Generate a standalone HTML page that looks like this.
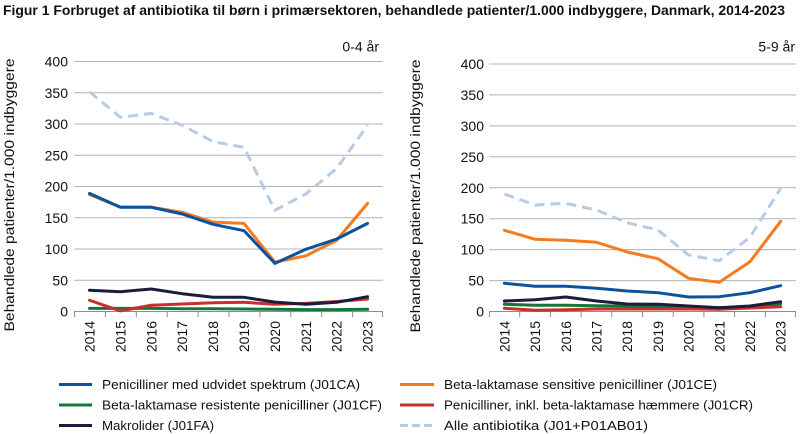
<!DOCTYPE html>
<html>
<head>
<meta charset="utf-8">
<style>
html,body{margin:0;padding:0;background:#fff;}
svg{display:block;}
text{font-family:"Liberation Sans",sans-serif;fill:#111;}
</style>
</head>
<body>
<svg width="800" height="434" viewBox="0 0 800 434" xmlns="http://www.w3.org/2000/svg">
<rect width="800" height="434" fill="#fff"/>
<text x="3" y="15" font-size="14" font-weight="bold" textLength="782" lengthAdjust="spacingAndGlyphs">Figur 1 Forbruget af antibiotika til børn i primærsektoren, behandlede patienter/1.000 indbyggere, Danmark, 2014-2023</text>

<!-- LEFT CHART -->
<g stroke="#b3b3b3" stroke-width="1">
<line x1="74" x2="383" y1="61.5" y2="61.5"/>
<line x1="74" x2="383" y1="92.75" y2="92.75"/>
<line x1="74" x2="383" y1="124" y2="124"/>
<line x1="74" x2="383" y1="155.25" y2="155.25"/>
<line x1="74" x2="383" y1="186.5" y2="186.5"/>
<line x1="74" x2="383" y1="217.75" y2="217.75"/>
<line x1="74" x2="383" y1="249" y2="249"/>
<line x1="74" x2="383" y1="280.25" y2="280.25"/>
</g>
<g stroke="#8c8c8c" stroke-width="1">
<line x1="74" x2="383" y1="311.5" y2="311.5"/>
<line x1="74.5" x2="74.5" y1="311.5" y2="317"/>
<line x1="105.4" x2="105.4" y1="311.5" y2="317"/>
<line x1="136.3" x2="136.3" y1="311.5" y2="317"/>
<line x1="167.2" x2="167.2" y1="311.5" y2="317"/>
<line x1="198.1" x2="198.1" y1="311.5" y2="317"/>
<line x1="229" x2="229" y1="311.5" y2="317"/>
<line x1="259.9" x2="259.9" y1="311.5" y2="317"/>
<line x1="290.8" x2="290.8" y1="311.5" y2="317"/>
<line x1="321.7" x2="321.7" y1="311.5" y2="317"/>
<line x1="352.6" x2="352.6" y1="311.5" y2="317"/>
<line x1="382.5" x2="382.5" y1="311.5" y2="317"/>
</g>
<g font-size="14" text-anchor="end">
<text x="68" y="66.5">400</text>
<text x="68" y="97.75">350</text>
<text x="68" y="129">300</text>
<text x="68" y="160.25">250</text>
<text x="68" y="191.5">200</text>
<text x="68" y="222.75">150</text>
<text x="68" y="254">100</text>
<text x="68" y="285.25">50</text>
<text x="68" y="316.5">0</text>
</g>
<g font-size="14" text-anchor="end">
<text transform="translate(94.5,321) rotate(-90)">2014</text>
<text transform="translate(125.4,321) rotate(-90)">2015</text>
<text transform="translate(156.3,321) rotate(-90)">2016</text>
<text transform="translate(187.2,321) rotate(-90)">2017</text>
<text transform="translate(218.1,321) rotate(-90)">2018</text>
<text transform="translate(249,321) rotate(-90)">2019</text>
<text transform="translate(279.9,321) rotate(-90)">2020</text>
<text transform="translate(310.8,321) rotate(-90)">2021</text>
<text transform="translate(341.7,321) rotate(-90)">2022</text>
<text transform="translate(372.6,321) rotate(-90)">2023</text>
</g>
<text transform="translate(14,195) rotate(-90)" font-size="14" text-anchor="middle" textLength="273" lengthAdjust="spacingAndGlyphs">Behandlede patienter/1.000 indbyggere</text>
<text x="379" y="51.5" font-size="14" text-anchor="end">0-4 år</text>

<g fill="none" stroke-width="3" stroke-linejoin="round" stroke-linecap="round">
<polyline stroke="#f47b20" points="89.5,194.6 120.4,207.1 151.3,207.1 182.2,212.3 213.1,222.1 244,223.4 274.9,262.1 305.8,255.9 336.7,240.25 367.6,203.4"/>
<polyline stroke="#0b52a1" points="89.5,193.4 120.4,207.3 151.3,207.3 182.2,214 213.1,224.3 244,230.7 274.9,263.4 305.8,249.3 336.7,239 367.6,223.4"/>
<polyline stroke="#13773b" points="89.5,308.4 120.4,308.4 151.3,308.4 182.2,308.7 213.1,308.7 244,309 274.9,309.3 305.8,309.6 336.7,309.6 367.6,309.3"/>
<polyline stroke="#c8302c" points="89.5,300.25 120.4,310.9 151.3,305.25 182.2,304 213.1,302.75 244,302.3 274.9,304.3 305.8,303.4 336.7,301.5 367.6,299"/>
<polyline stroke="#1c1c3c" points="89.5,290.25 120.4,291.7 151.3,289 182.2,293.7 213.1,297.3 244,297.3 274.9,302.1 305.8,304.3 336.7,302.3 367.6,296.7"/>
<polyline stroke="#b7cbe4" stroke-linecap="butt" stroke-dasharray="10,6" points="89.5,91.7 120.4,117.3 151.3,113.4 182.2,125.25 213.1,141.7 244,147.3 274.9,210.25 305.8,194 336.7,168.4 367.6,125.25"/>
</g>

<!-- RIGHT CHART -->
<g stroke="#b3b3b3" stroke-width="1">
<line x1="489" x2="796" y1="64" y2="64"/>
<line x1="489" x2="796" y1="94.9" y2="94.9"/>
<line x1="489" x2="796" y1="125.9" y2="125.9"/>
<line x1="489" x2="796" y1="156.8" y2="156.8"/>
<line x1="489" x2="796" y1="187.75" y2="187.75"/>
<line x1="489" x2="796" y1="218.7" y2="218.7"/>
<line x1="489" x2="796" y1="249.6" y2="249.6"/>
<line x1="489" x2="796" y1="280.6" y2="280.6"/>
</g>
<g stroke="#8c8c8c" stroke-width="1">
<line x1="489" x2="796" y1="311.5" y2="311.5"/>
<line x1="489.5" x2="489.5" y1="311.5" y2="317"/>
<line x1="519.7" x2="519.7" y1="311.5" y2="317"/>
<line x1="550.4" x2="550.4" y1="311.5" y2="317"/>
<line x1="581.1" x2="581.1" y1="311.5" y2="317"/>
<line x1="611.8" x2="611.8" y1="311.5" y2="317"/>
<line x1="642.5" x2="642.5" y1="311.5" y2="317"/>
<line x1="673.2" x2="673.2" y1="311.5" y2="317"/>
<line x1="703.9" x2="703.9" y1="311.5" y2="317"/>
<line x1="734.6" x2="734.6" y1="311.5" y2="317"/>
<line x1="765.3" x2="765.3" y1="311.5" y2="317"/>
<line x1="795.5" x2="795.5" y1="311.5" y2="317"/>
</g>
<g font-size="14" text-anchor="end">
<text x="484" y="69">400</text>
<text x="484" y="99.9">350</text>
<text x="484" y="130.9">300</text>
<text x="484" y="161.8">250</text>
<text x="484" y="192.75">200</text>
<text x="484" y="223.7">150</text>
<text x="484" y="254.6">100</text>
<text x="484" y="285.6">50</text>
<text x="484" y="316.5">0</text>
</g>
<g font-size="14" text-anchor="end">
<text transform="translate(509.4,321) rotate(-90)">2014</text>
<text transform="translate(540.1,321) rotate(-90)">2015</text>
<text transform="translate(570.8,321) rotate(-90)">2016</text>
<text transform="translate(601.5,321) rotate(-90)">2017</text>
<text transform="translate(632.2,321) rotate(-90)">2018</text>
<text transform="translate(662.9,321) rotate(-90)">2019</text>
<text transform="translate(693.6,321) rotate(-90)">2020</text>
<text transform="translate(724.3,321) rotate(-90)">2021</text>
<text transform="translate(755,321) rotate(-90)">2022</text>
<text transform="translate(785.7,321) rotate(-90)">2023</text>
</g>
<text transform="translate(420,196) rotate(-90)" font-size="14" text-anchor="middle" textLength="273" lengthAdjust="spacingAndGlyphs">Behandlede patienter/1.000 indbyggere</text>
<text x="795" y="51.5" font-size="14" text-anchor="end">5-9 år</text>

<g fill="none" stroke-width="3" stroke-linejoin="round" stroke-linecap="round">
<polyline stroke="#f47b20" points="504.4,230.3 535.1,239.3 565.8,240.3 596.5,242.3 627.2,252 657.9,258.7 688.6,278.3 719.3,282.3 750,261.7 780.7,221.3"/>
<polyline stroke="#0b52a1" points="504.4,283.3 535.1,286.3 565.8,286.3 596.5,288.3 627.2,291 657.9,292.7 688.6,297 719.3,296.7 750,292.7 780.7,285.7"/>
<polyline stroke="#13773b" points="504.4,304.3 535.1,305.3 565.8,305.3 596.5,305.7 627.2,306 657.9,306 688.6,306.7 719.3,307.7 750,306.5 780.7,303.7"/>
<polyline stroke="#c8302c" points="504.4,308.3 535.1,310.3 565.8,309.7 596.5,309 627.2,309 657.9,309 688.6,309 719.3,309.3 750,308 780.7,306.7"/>
<polyline stroke="#1c1c3c" points="504.4,301 535.1,299.7 565.8,297 596.5,301 627.2,304 657.9,304.3 688.6,306 719.3,307.7 750,306 780.7,301.7"/>
<polyline stroke="#b7cbe4" stroke-linecap="butt" stroke-dasharray="10,6" points="504.4,194 535.1,205 565.8,203.3 596.5,210 627.2,222.7 657.9,230 688.6,255 719.3,260.7 750,237.3 780.7,188.3"/>
</g>

<!-- LEGEND -->
<g stroke-width="3" fill="none">
<line x1="59" x2="92" y1="384.5" y2="384.5" stroke="#0b52a1"/>
<line x1="59" x2="92" y1="405" y2="405" stroke="#13773b"/>
<line x1="59" x2="92" y1="425.5" y2="425.5" stroke="#1c1c3c"/>
<line x1="400" x2="434" y1="384.5" y2="384.5" stroke="#f47b20"/>
<line x1="400" x2="434" y1="405" y2="405" stroke="#c8302c"/>
<line x1="400" x2="434" y1="425.5" y2="425.5" stroke="#b7cbe4" stroke-dasharray="8,4"/>
</g>
<g font-size="13">
<text x="102" y="389" textLength="258" lengthAdjust="spacingAndGlyphs">Penicilliner med udvidet spektrum (J01CA)</text>
<text x="102" y="409.5" textLength="280" lengthAdjust="spacingAndGlyphs">Beta-laktamase resistente penicilliner (J01CF)</text>
<text x="102" y="430" textLength="112" lengthAdjust="spacingAndGlyphs">Makrolider (J01FA)</text>
<text x="444" y="389" textLength="273" lengthAdjust="spacingAndGlyphs">Beta-laktamase sensitive penicilliner (J01CE)</text>
<text x="444" y="409.5" textLength="309" lengthAdjust="spacingAndGlyphs">Penicilliner, inkl. beta-laktamase hæmmere (J01CR)</text>
<text x="444" y="430" textLength="204" lengthAdjust="spacingAndGlyphs">Alle antibiotika (J01+P01AB01)</text>
</g>
</svg>
</body>
</html>
